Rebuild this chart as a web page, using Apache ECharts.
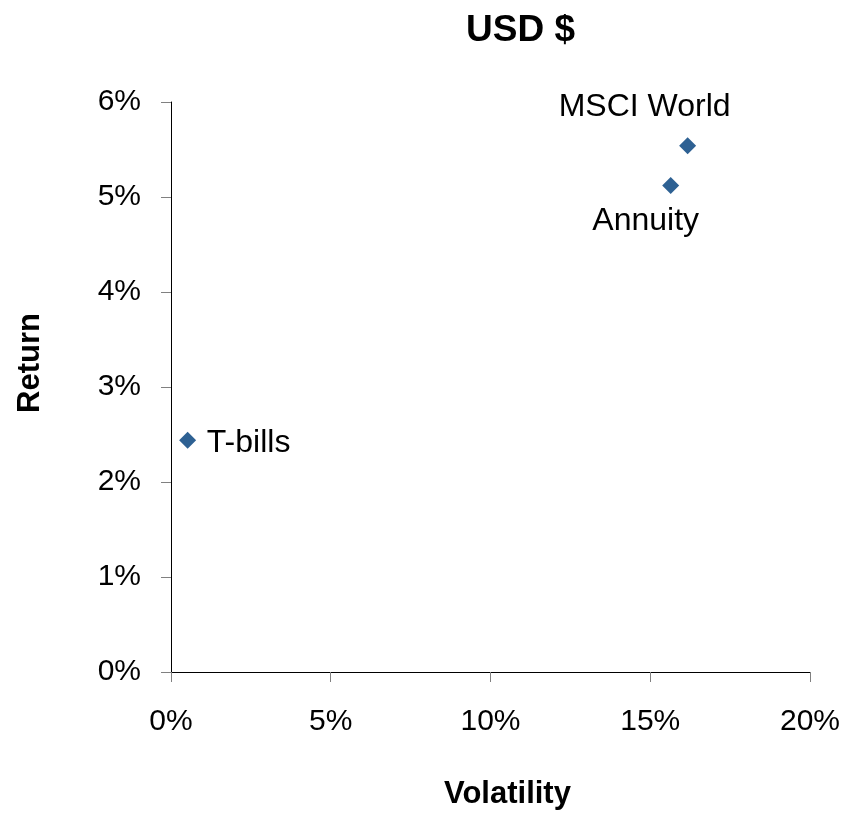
<!DOCTYPE html>
<html>
<head>
<meta charset="utf-8">
<script src="https://cdn.jsdelivr.net/npm/echarts@6/dist/echarts.min.js"></script>
<style>html,body{margin:0;padding:0;background:#fff}#c{width:843px;height:815px}</style>
</head>
<body>
<div id="c"></div>
<script>
const names = ['MSCI World', 'Annuity', 'T-bills'];
const volatility = [16.17, 15.64, 0.52];
const returns = [5.54, 5.12, 2.44];
const labelOffsets = [[-43, -39], [-25, 36], [61, 3]];

const FONT = '"Liberation Sans", Arial, sans-serif';
const chart = echarts.init(document.getElementById('c'));
chart.setOption({
  animation: false,
  backgroundColor: '#fff',
  title: {
    text: 'USD $', left: 466, top: 12, padding: 0,
    textStyle: { fontFamily: FONT, fontSize: 37, fontWeight: 'bold', color: '#000' }
  },
  grid: { left: 171, right: 33, top: 102, bottom: 141, containLabel: false },
  xAxis: {
    type: 'value', min: 0, max: 20, interval: 5,
    name: 'Volatility', nameLocation: 'middle', nameGap: 107,
    nameTextStyle: { fontFamily: FONT, fontSize: 31, fontWeight: 'bold', color: '#000', padding: [0, 0, 0, 34] },
    axisLine: { show: true, lineStyle: { color: '#000', width: 1 } },
    axisTick: { show: true, length: 10, lineStyle: { color: '#808080' } },
    axisLabel: { formatter: '{value}%', margin: 35, fontFamily: FONT, fontSize: 30, color: '#000' },
    splitLine: { show: false }
  },
  yAxis: {
    type: 'value', min: 0, max: 6, interval: 1,
    name: 'Return', nameLocation: 'middle', nameGap: 125, nameRotate: 90,
    nameTextStyle: { fontFamily: FONT, fontSize: 31, fontWeight: 'bold', color: '#000', padding: [0, 0, 0, 48] },
    axisLine: { show: true, lineStyle: { color: '#000', width: 1 } },
    axisTick: { show: true, length: 10, lineStyle: { color: '#808080' } },
    axisLabel: { formatter: '{value}%', margin: 30, fontFamily: FONT, fontSize: 30, color: '#000' },
    splitLine: { show: false }
  },
  series: [{
    type: 'scatter',
    symbol: 'diamond',
    symbolSize: 17,
    itemStyle: { color: '#2E6193', opacity: 1 },
    data: names.map((n, i) => ({
      name: n,
      value: [volatility[i], returns[i]],
      label: {
        show: true, position: 'inside', offset: labelOffsets[i],
        formatter: n, fontFamily: FONT, fontSize: 32, color: '#000'
      }
    }))
  }]
});
</script>
</body>
</html>
